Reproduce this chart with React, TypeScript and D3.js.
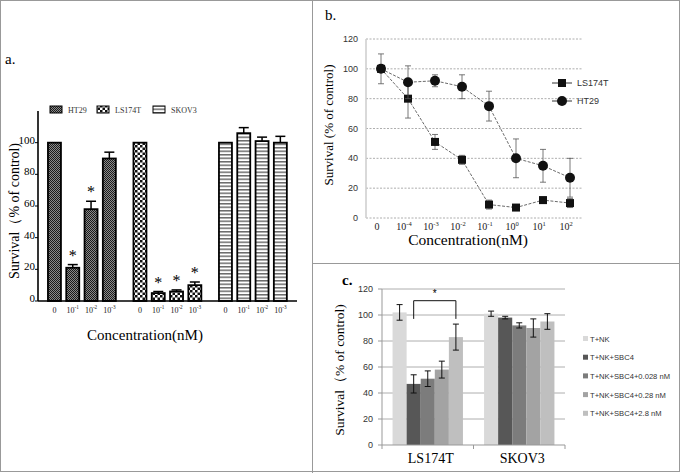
import React from 'react';
import * as d3 from 'd3';

const W = 680;
const H = 473;
const SERIF = '"Liberation Serif", "Times New Roman", serif';
const SANS = '"Liberation Sans", Arial, sans-serif';

// panel a: bars by cell line and concentration
const aGroups = ['HT29', 'LS174T', 'SKOV3'];
const aConc = ['0', '10^-1', '10^-2', '10^-3'];
const aHT29 = [100, 21, 58, 90];
const aHT29Err = [0, 2, 5, 4];
const aLS174T = [100, 5, 6, 10];
const aLS174TErr = [0, 1, 1, 2];
const aSKOV3 = [100, 106, 101, 100];
const aSKOV3Err = [0, 3.5, 2.5, 4];
const aHT29Star = [false, true, true, false];
const aLS174TStar = [false, true, true, true];
const aSKOV3Star = [false, false, false, false];
const aTicks = [0, 20, 40, 60, 80, 100];

// panel b: dose response lines
const bConc = ['0', '10^-4', '10^-3', '10^-2', '10^-1', '10^0', '10^1', '10^2'];
const bLS174T = [100, 80, 51, 39, 9, 7, 12, 10];
const bLS174TErr = [10, 13, 5, 3, 3, 2, 2, 3];
const bHT29 = [100, 91, 92, 88, 75, 40, 35, 27];
const bHT29Err = [2, 11, 4, 8, 10, 13, 11, 13];
const bTicks = [0, 20, 40, 60, 80, 100, 120];

// panel c: NK assay
const cGroups = ['LS174T', 'SKOV3'];
const cSeries = ['T+NK', 'T+NK+SBC4', 'T+NK+SBC4+0.028 nM', 'T+NK+SBC4+0.28 nM', 'T+NK+SBC4+2.8 nM'];
const cColors = ['#d9d9d9', '#575757', '#7c7c7c', '#a3a3a3', '#bfbfbf'];
const cLS174T = [102, 47, 51, 58, 83];
const cLS174TErr = [6, 7, 6, 6.5, 10];
const cSKOV3 = [101, 98, 92, 90, 95];
const cSKOV3Err = [2, 1, 2, 7, 6];
const cTicks = [0, 20, 40, 60, 80, 100, 120];

function Pow({ label, x, y, size, font, anchor = 'middle' }: any) {
  const [base, exp] = label.split('^');
  return (
    <text x={x} y={y} fontSize={size} fontFamily={font} textAnchor={anchor} fill="#222">
      {base}
      {exp !== undefined && (
        <tspan dy={-size * 0.45} fontSize={size * 0.65}>
          {exp}
        </tspan>
      )}
    </text>
  );
}

function PanelA() {
  const y = d3.scaleLinear().domain([0, 120]).range([301, 111]);
  const outer = d3.scaleBand().domain(aGroups).range([45.3, 289.5]).paddingInner(0.144);
  const inner = d3.scaleBand().domain(aConc).range([0, outer.bandwidth()]).paddingInner(0.29).paddingOuter(0.145);
  const vals = [aHT29, aLS174T, aSKOV3];
  const errs = [aHT29Err, aLS174TErr, aSKOV3Err];
  const stars = [aHT29Star, aLS174TStar, aSKOV3Star];
  const fills = ['url(#pHT29)', 'url(#pLS)', 'url(#pSK)'];
  const legendX = [50, 97, 153];
  return (
    <g>
      <text x={5} y={64} fontFamily={SERIF} fontSize={15}>a.</text>
      {aGroups.map((g, gi) => (
        <g key={g}>
          <rect x={legendX[gi]} y={106} width={12} height={7} fill={fills[gi]} stroke="#000" strokeWidth={1} />
          <text x={legendX[gi] + 18} y={113} fontFamily={SERIF} fontSize={8} fill="#333">{g}</text>
        </g>
      ))}
      {aGroups.map((g, gi) =>
        aConc.map((c, ci) => {
          const x0 = (outer(g) as number) + (inner(c) as number);
          const bw = inner.bandwidth();
          const v = vals[gi][ci];
          const e = errs[gi][ci];
          const cx = x0 + bw / 2;
          return (
            <g key={g + c}>
              {e > 0 && (
                <g stroke="#000" strokeWidth={1.5}>
                  <line x1={cx} x2={cx} y1={y(v)} y2={y(v + e)} />
                  <line x1={cx - 5} x2={cx + 5} y1={y(v + e)} y2={y(v + e)} />
                </g>
              )}
              <rect x={x0} y={y(v)} width={bw} height={y(0) - y(v)} fill={fills[gi]} stroke="#000" strokeWidth={1.8} />
              {stars[gi][ci] && (
                <text x={cx} y={y(v + e) - 4} textAnchor="middle" fontFamily={SERIF} fontSize={16}>*</text>
              )}
              <Pow label={c} x={cx} y={313} size={8} font={SERIF} />
            </g>
          );
        })
      )}
      <line x1={38} x2={297} y1={y(0)} y2={y(0)} stroke="#000" strokeWidth={1.6} />
      <line x1={38} x2={38} y1={y(120)} y2={y(0)} stroke="#000" strokeWidth={1.6} />
      {aTicks.map((t) => (
        <g key={t}>
          <line x1={35} x2={38} y1={y(t)} y2={y(t)} stroke="#000" />
          <text x={35} y={y(t) + 1} textAnchor="end" fontFamily={SERIF} fontSize={11}>{t}</text>
        </g>
      ))}
      <text x={145} y={340} textAnchor="middle" fontFamily={SERIF} fontSize={15}>Concentration(nM)</text>
      <text transform="translate(19,211) rotate(-90)" textAnchor="middle" fontFamily={SERIF} fontSize={14}>
        Survival（% of control)
      </text>
    </g>
  );
}

function PanelB() {
  const y = d3.scaleLinear().domain([0, 120]).range([218, 39]);
  const x = d3.scalePoint().domain(bConc).range([381, 570]);
  const ln = d3.line<number>().x((_, i) => x(bConc[i]) as number).y((d) => y(d));
  const series = [
    { name: 'LS174T', v: bLS174T, e: bLS174TErr, shape: 'square' },
    { name: 'HT29', v: bHT29, e: bHT29Err, shape: 'circle' },
  ];
  const marker = (shape: string, cx: number, cy: number, key: any) =>
    shape === 'square' ? (
      <rect key={key} x={cx - 4} y={cy - 4} width={8} height={8} fill="#111" />
    ) : (
      <circle key={key} cx={cx} cy={cy} r={5} fill="#111" />
    );
  return (
    <g>
      <text x={325} y={20} fontFamily={SERIF} fontSize={15}>b.</text>
      {bTicks.map((t) => (
        <g key={t}>
          <line x1={366} x2={583} y1={y(t)} y2={y(t)} stroke="#999" strokeWidth={0.8} strokeDasharray="2,1.5" />
          <text x={358} y={y(t) + 3} textAnchor="end" fontFamily={SANS} fontSize={9} fill="#333">{t}</text>
        </g>
      ))}
      <line x1={366} x2={366} y1={y(120)} y2={y(0)} stroke="#ccc" strokeWidth={1.5} />
      {series.map((s) => (
        <g key={s.name}>
          <path d={ln(s.v) as string} fill="none" stroke="#444" strokeWidth={0.8} strokeDasharray="3,1.5" />
          {s.v.map((v, i) => {
            const cx = x(bConc[i]) as number;
            return (
              <g key={i} stroke="#555" strokeWidth={0.8}>
                <line x1={cx} x2={cx} y1={y(v - s.e[i])} y2={y(v + s.e[i])} />
                <line x1={cx - 3} x2={cx + 3} y1={y(v - s.e[i])} y2={y(v - s.e[i])} />
                <line x1={cx - 3} x2={cx + 3} y1={y(v + s.e[i])} y2={y(v + s.e[i])} />
              </g>
            );
          })}
          {s.v.map((v, i) => marker(s.shape, x(bConc[i]) as number, y(v), i))}
        </g>
      ))}
      {series.map((s, i) => (
        <g key={s.name}>
          <line x1={552} x2={572} y1={83 + i * 18} y2={83 + i * 18} stroke="#333" strokeWidth={1} />
          {marker(s.shape, 562, 83 + i * 18, 'm')}
          <text x={577} y={86 + i * 18} fontFamily={SANS} fontSize={9} fill="#333">{s.name}</text>
        </g>
      ))}
      {bConc.map((c) => (
        <Pow key={c} label={c} x={(x(c) as number) - 4} y={230} size={10} font={SERIF} />
      ))}
      <text x={468} y={245} textAnchor="middle" fontFamily={SERIF} fontSize={15.5}>Concentration(nM)</text>
      <text transform="translate(333,125) rotate(-90)" textAnchor="middle" fontFamily={SERIF} fontSize={13}>
        Survival (% of control)
      </text>
    </g>
  );
}

function PanelC() {
  const y = d3.scaleLinear().domain([0, 120]).range([445, 289]);
  const outer = d3.scaleBand().domain(cGroups).range([382, 565]);
  const inner = d3.scaleBand().domain(cSeries).range([0, outer.bandwidth()]).paddingInner(0).paddingOuter(0.75);
  const vals = [cLS174T, cSKOV3];
  const errs = [cLS174TErr, cSKOV3Err];
  const bw = inner.bandwidth();
  const bx = (g: string, s: string) => (outer(g) as number) + (inner(s) as number) + bw / 2;
  const bl = bx('LS174T', cSeries[1]);
  const br = bx('LS174T', cSeries[4]);
  return (
    <g>
      <text x={342} y={285} fontFamily={SERIF} fontSize={15} fontWeight="bold">c.</text>
      {cTicks.map((t) => (
        <g key={t}>
          {t > 0 && <line x1={382} x2={565} y1={y(t)} y2={y(t)} stroke="#9a9a9a" strokeWidth={0.8} />}
          <line x1={378} x2={382} y1={y(t)} y2={y(t)} stroke="#999" />
          <text x={373} y={y(t) + 3} textAnchor="end" fontFamily={SANS} fontSize={9} fill="#333">{t}</text>
        </g>
      ))}
      {cGroups.map((g, gi) =>
        cSeries.map((s, si) => {
          const v = vals[gi][si];
          const e = errs[gi][si];
          const x0 = (outer(g) as number) + (inner(s) as number);
          const cx = x0 + bw / 2;
          return (
            <g key={g + s}>
              <rect x={x0} y={y(v)} width={bw} height={y(0) - y(v)} fill={cColors[si]} />
              <g stroke="#111" strokeWidth={1}>
                <line x1={cx} x2={cx} y1={y(v - e)} y2={y(v + e)} />
                <line x1={cx - 3} x2={cx + 3} y1={y(v - e)} y2={y(v - e)} />
                <line x1={cx - 3} x2={cx + 3} y1={y(v + e)} y2={y(v + e)} />
              </g>
            </g>
          );
        })
      )}
      <line x1={382} x2={382} y1={y(120)} y2={y(0)} stroke="#999" />
      <line x1={382} x2={565} y1={y(0)} y2={y(0)} stroke="#999" />
      {[382, 382 + outer.bandwidth(), 565].map((tx) => (
        <line key={tx} x1={tx} x2={tx} y1={y(0)} y2={y(0) + 4} stroke="#999" />
      ))}
      <path d={`M${bl},${y(97)}V${y(111)}H${br}V${y(97)}`} fill="none" stroke="#111" strokeWidth={1} />
      <text x={(bl + br) / 2} y={y(116) + 3} textAnchor="middle" fontFamily={SANS} fontSize={10}>*</text>
      {cGroups.map((g) => (
        <text key={g} x={(outer(g) as number) + outer.bandwidth() / 2 + 3} y={463} textAnchor="middle" fontFamily={SERIF} fontSize={14}>
          {g}
        </text>
      ))}
      {cSeries.map((s, i) => (
        <g key={s}>
          <rect x={583} y={336 + i * 18.7} width={5} height={5} fill={cColors[i]} />
          <text x={590} y={341.5 + i * 18.7} fontFamily={SANS} fontSize={7.6} fill="#333">{s}</text>
        </g>
      ))}
      <text transform="translate(344,370) rotate(-90)" textAnchor="middle" fontFamily={SERIF} fontSize={13.5}>
        Survival（% of control)
      </text>
    </g>
  );
}

export default function App() {
  return (
    <svg width={W} height={H} style={{ position: 'absolute', left: 0, top: 0, background: '#fff' }}>
      <defs>
        <pattern id="pHT29" patternUnits="userSpaceOnUse" width={2} height={2}>
          <rect width={2} height={2} fill="#8a8a8a" />
          <rect width={1} height={1} fill="#1a1a1a" />
          <rect x={1} y={1} width={1} height={1} fill="#1a1a1a" />
        </pattern>
        <pattern id="pLS" patternUnits="userSpaceOnUse" width={5} height={5}>
          <rect width={5} height={5} fill="#fff" />
          <rect width={2.5} height={2.5} fill="#111" />
          <rect x={2.5} y={2.5} width={2.5} height={2.5} fill="#111" />
        </pattern>
        <pattern id="pSK" patternUnits="userSpaceOnUse" width={4} height={3.5}>
          <rect width={4} height={3.5} fill="#fff" />
          <rect width={4} height={1.5} fill="#6a6a6a" />
        </pattern>
      </defs>
      <rect x={0.5} y={0.5} width={W - 1} height={H - 2} fill="#fff" stroke="#999" />
      <line x1={312.5} x2={312.5} y1={0} y2={H} stroke="#999" />
      <line x1={312} x2={W} y1={263.5} y2={263.5} stroke="#999" />
      <PanelA />
      <PanelB />
      <PanelC />
    </svg>
  );
}
